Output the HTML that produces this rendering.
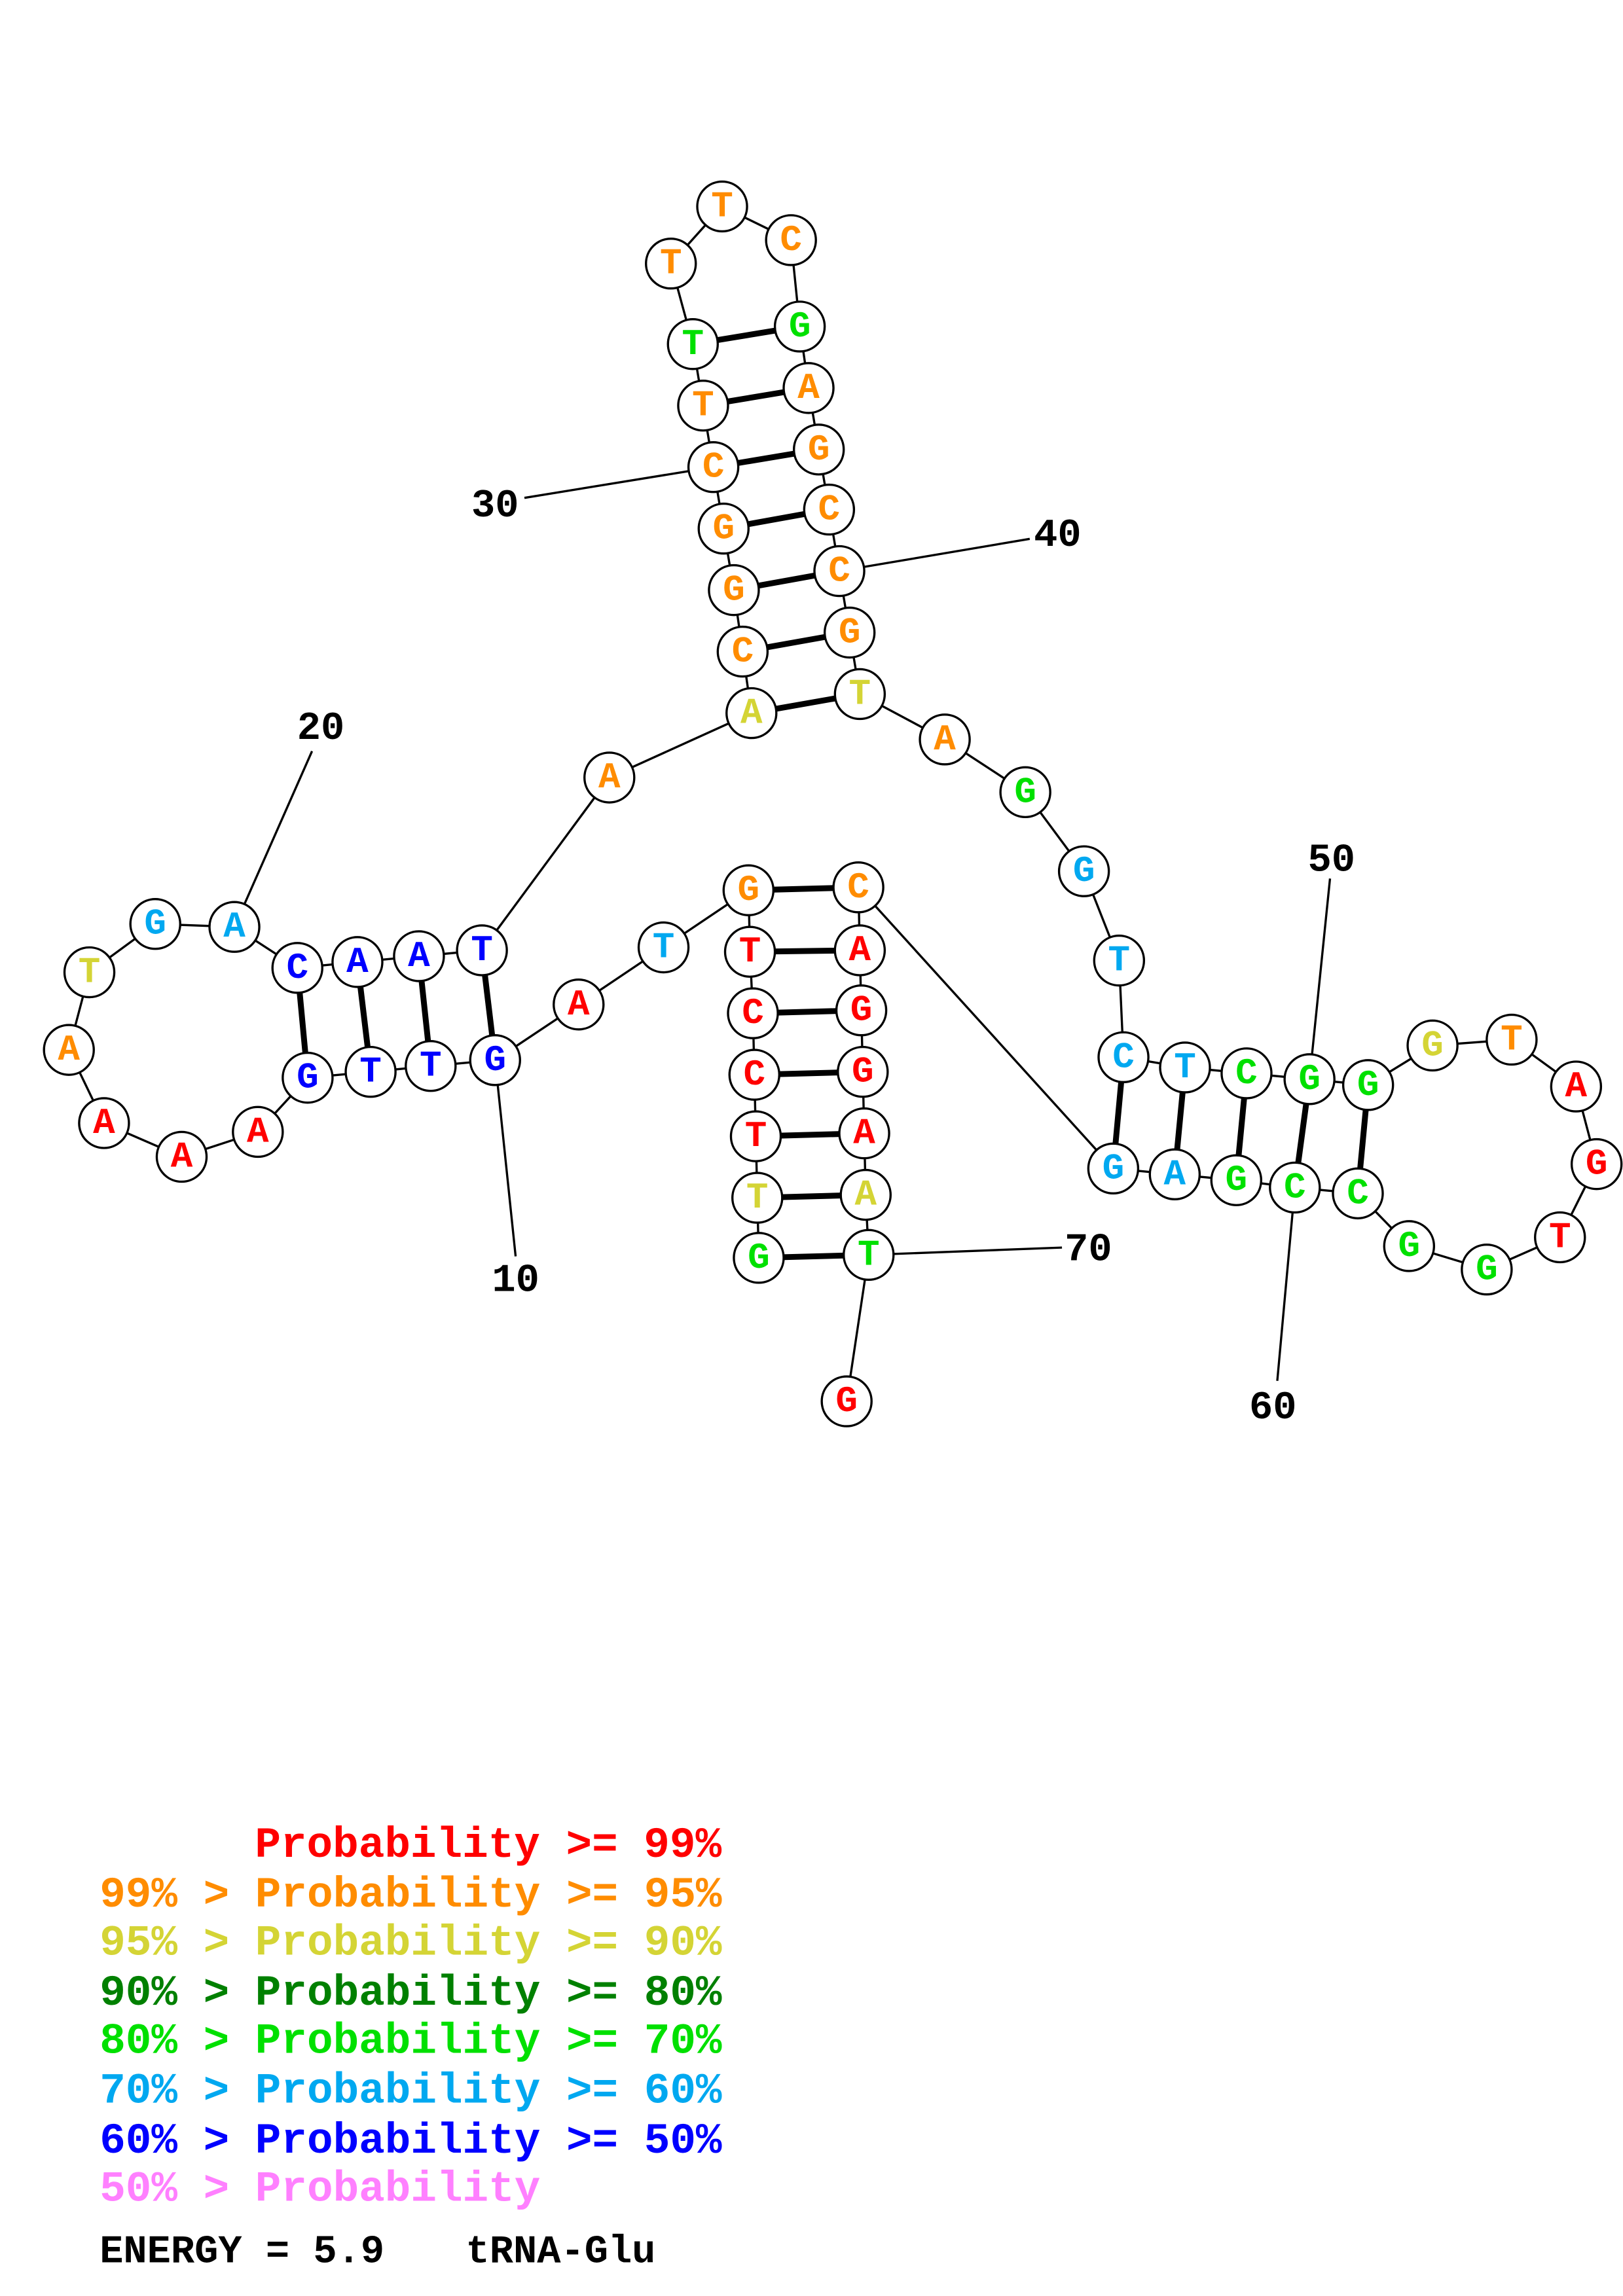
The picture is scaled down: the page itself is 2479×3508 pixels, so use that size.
<!DOCTYPE html>
<html><head><meta charset="utf-8"><style>html,body{margin:0;padding:0;background:#fff}svg{display:block}text{white-space:pre}</style></head><body>
<svg width="2479" height="3508" viewBox="0 0 1108 1568" xmlns="http://www.w3.org/2000/svg">
<rect width="1108" height="1568" fill="#fff"/>
<g stroke="#000" stroke-width="1.5" fill="none">
<polyline points="518,859 517,818 516,776 515,734 514,692 512,650 511,608 453,647 395,686 338,724 294,728 253,732 210,736 176,773 124,790 71,767 47,717 61,664 106,631 160,633 203,661 244,657 286,653 329,649 416,531 513,487 507,445 501,403 494,361 487,319 480,277 473,235 458,180 493,141 540,164 546,223 552,265 559,307 566,348 573,390 580,432 587,474 645,505 700,541 740,595 764,656 767,722 809,729 851,733 894,737 934,741 978,714 1032,710 1076,742 1090,795 1065,845 1015,867 962,851 927,815 884,811 844,806 802,802 760,798 586,606 587,649 588,690 589,732 590,774 591,816 593,857 578,957"/>
<line x1="338" y1="724" x2="352" y2="858"/>
<line x1="160" y1="633" x2="213" y2="513"/>
<line x1="487" y1="319" x2="358" y2="340"/>
<line x1="573" y1="390" x2="703" y2="368"/>
<line x1="894" y1="737" x2="908" y2="600"/>
<line x1="884" y1="811" x2="872" y2="943"/>
<line x1="593" y1="857" x2="725" y2="852"/>
</g>
<g stroke="#000" stroke-width="4">
<line x1="518" y1="859" x2="593" y2="857"/><line x1="517" y1="818" x2="591" y2="816"/><line x1="516" y1="776" x2="590" y2="774"/><line x1="515" y1="734" x2="589" y2="732"/><line x1="514" y1="692" x2="588" y2="690"/><line x1="512" y1="650" x2="587" y2="649"/><line x1="511" y1="608" x2="586" y2="606"/>
<line x1="338" y1="724" x2="329" y2="649"/><line x1="294" y1="728" x2="286" y2="653"/><line x1="253" y1="732" x2="244" y2="657"/><line x1="210" y1="736" x2="203" y2="661"/>
<line x1="513" y1="487" x2="587" y2="474"/><line x1="507" y1="445" x2="580" y2="432"/><line x1="501" y1="403" x2="573" y2="390"/><line x1="494" y1="361" x2="566" y2="348"/><line x1="487" y1="319" x2="559" y2="307"/><line x1="480" y1="277" x2="552" y2="265"/><line x1="473" y1="235" x2="546" y2="223"/>
<line x1="767" y1="722" x2="760" y2="798"/><line x1="809" y1="729" x2="802" y2="802"/><line x1="851" y1="733" x2="844" y2="806"/><line x1="894" y1="737" x2="884" y2="811"/><line x1="934" y1="741" x2="927" y2="815"/>
</g>
<g stroke="#000" stroke-width="1.5" fill="#fff">
<circle cx="518" cy="859" r="17"/><circle cx="517" cy="818" r="17"/><circle cx="516" cy="776" r="17"/><circle cx="515" cy="734" r="17"/><circle cx="514" cy="692" r="17"/><circle cx="512" cy="650" r="17"/><circle cx="511" cy="608" r="17"/><circle cx="453" cy="647" r="17"/><circle cx="395" cy="686" r="17"/><circle cx="338" cy="724" r="17"/><circle cx="294" cy="728" r="17"/><circle cx="253" cy="732" r="17"/><circle cx="210" cy="736" r="17"/><circle cx="176" cy="773" r="17"/><circle cx="124" cy="790" r="17"/><circle cx="71" cy="767" r="17"/><circle cx="47" cy="717" r="17"/><circle cx="61" cy="664" r="17"/><circle cx="106" cy="631" r="17"/><circle cx="160" cy="633" r="17"/><circle cx="203" cy="661" r="17"/><circle cx="244" cy="657" r="17"/><circle cx="286" cy="653" r="17"/><circle cx="329" cy="649" r="17"/><circle cx="416" cy="531" r="17"/><circle cx="513" cy="487" r="17"/><circle cx="507" cy="445" r="17"/><circle cx="501" cy="403" r="17"/><circle cx="494" cy="361" r="17"/><circle cx="487" cy="319" r="17"/><circle cx="480" cy="277" r="17"/><circle cx="473" cy="235" r="17"/><circle cx="458" cy="180" r="17"/><circle cx="493" cy="141" r="17"/><circle cx="540" cy="164" r="17"/><circle cx="546" cy="223" r="17"/><circle cx="552" cy="265" r="17"/><circle cx="559" cy="307" r="17"/><circle cx="566" cy="348" r="17"/><circle cx="573" cy="390" r="17"/><circle cx="580" cy="432" r="17"/><circle cx="587" cy="474" r="17"/><circle cx="645" cy="505" r="17"/><circle cx="700" cy="541" r="17"/><circle cx="740" cy="595" r="17"/><circle cx="764" cy="656" r="17"/><circle cx="767" cy="722" r="17"/><circle cx="809" cy="729" r="17"/><circle cx="851" cy="733" r="17"/><circle cx="894" cy="737" r="17"/><circle cx="934" cy="741" r="17"/><circle cx="978" cy="714" r="17"/><circle cx="1032" cy="710" r="17"/><circle cx="1076" cy="742" r="17"/><circle cx="1090" cy="795" r="17"/><circle cx="1065" cy="845" r="17"/><circle cx="1015" cy="867" r="17"/><circle cx="962" cy="851" r="17"/><circle cx="927" cy="815" r="17"/><circle cx="884" cy="811" r="17"/><circle cx="844" cy="806" r="17"/><circle cx="802" cy="802" r="17"/><circle cx="760" cy="798" r="17"/><circle cx="586" cy="606" r="17"/><circle cx="587" cy="649" r="17"/><circle cx="588" cy="690" r="17"/><circle cx="589" cy="732" r="17"/><circle cx="590" cy="774" r="17"/><circle cx="591" cy="816" r="17"/><circle cx="593" cy="857" r="17"/><circle cx="578" cy="957" r="17"/>
</g>
<g font-family="Liberation Mono, monospace" font-weight="bold" font-size="25" text-anchor="middle" dominant-baseline="central">
<text x="518" y="859" fill="#00e000">G</text><text x="517" y="818" fill="#d4d435">T</text><text x="516" y="776" fill="#ff0000">T</text><text x="515" y="734" fill="#ff0000">C</text><text x="514" y="692" fill="#ff0000">C</text><text x="512" y="650" fill="#ff0000">T</text><text x="511" y="608" fill="#ff8c00">G</text><text x="453" y="647" fill="#00a8f0">T</text><text x="395" y="686" fill="#ff0000">A</text><text x="338" y="724" fill="#0000ff">G</text><text x="294" y="728" fill="#0000ff">T</text><text x="253" y="732" fill="#0000ff">T</text><text x="210" y="736" fill="#0000ff">G</text><text x="176" y="773" fill="#ff0000">A</text><text x="124" y="790" fill="#ff0000">A</text><text x="71" y="767" fill="#ff0000">A</text><text x="47" y="717" fill="#ff8c00">A</text><text x="61" y="664" fill="#d4d435">T</text><text x="106" y="631" fill="#00a8f0">G</text><text x="160" y="633" fill="#00a8f0">A</text><text x="203" y="661" fill="#0000ff">C</text><text x="244" y="657" fill="#0000ff">A</text><text x="286" y="653" fill="#0000ff">A</text><text x="329" y="649" fill="#0000ff">T</text><text x="416" y="531" fill="#ff8c00">A</text><text x="513" y="487" fill="#d4d435">A</text><text x="507" y="445" fill="#ff8c00">C</text><text x="501" y="403" fill="#ff8c00">G</text><text x="494" y="361" fill="#ff8c00">G</text><text x="487" y="319" fill="#ff8c00">C</text><text x="480" y="277" fill="#ff8c00">T</text><text x="473" y="235" fill="#00e000">T</text><text x="458" y="180" fill="#ff8c00">T</text><text x="493" y="141" fill="#ff8c00">T</text><text x="540" y="164" fill="#ff8c00">C</text><text x="546" y="223" fill="#00e000">G</text><text x="552" y="265" fill="#ff8c00">A</text><text x="559" y="307" fill="#ff8c00">G</text><text x="566" y="348" fill="#ff8c00">C</text><text x="573" y="390" fill="#ff8c00">C</text><text x="580" y="432" fill="#ff8c00">G</text><text x="587" y="474" fill="#d4d435">T</text><text x="645" y="505" fill="#ff8c00">A</text><text x="700" y="541" fill="#00e000">G</text><text x="740" y="595" fill="#00a8f0">G</text><text x="764" y="656" fill="#00a8f0">T</text><text x="767" y="722" fill="#00a8f0">C</text><text x="809" y="729" fill="#00a8f0">T</text><text x="851" y="733" fill="#00e000">C</text><text x="894" y="737" fill="#00e000">G</text><text x="934" y="741" fill="#00e000">G</text><text x="978" y="714" fill="#d4d435">G</text><text x="1032" y="710" fill="#ff8c00">T</text><text x="1076" y="742" fill="#ff0000">A</text><text x="1090" y="795" fill="#ff0000">G</text><text x="1065" y="845" fill="#ff0000">T</text><text x="1015" y="867" fill="#00e000">G</text><text x="962" y="851" fill="#00e000">G</text><text x="927" y="815" fill="#00e000">C</text><text x="884" y="811" fill="#00e000">C</text><text x="844" y="806" fill="#00e000">G</text><text x="802" y="802" fill="#00a8f0">A</text><text x="760" y="798" fill="#00a8f0">G</text><text x="586" y="606" fill="#ff8c00">C</text><text x="587" y="649" fill="#ff0000">A</text><text x="588" y="690" fill="#ff0000">G</text><text x="589" y="732" fill="#ff0000">G</text><text x="590" y="774" fill="#ff0000">A</text><text x="591" y="816" fill="#d4d435">A</text><text x="593" y="857" fill="#00e000">T</text><text x="578" y="957" fill="#ff0000">G</text>
</g>
<g font-family="Liberation Mono, monospace" font-weight="bold" font-size="27" text-anchor="middle" dominant-baseline="central" fill="#000">
<text x="352" y="875">10</text><text x="219" y="498">20</text><text x="338" y="346">30</text><text x="722" y="366">40</text><text x="909" y="588">50</text><text x="869" y="962">60</text><text x="743" y="854">70</text>
</g>
<g font-family="Liberation Mono, monospace" font-weight="bold" font-size="29.5">
<text x="174" y="1268" fill="#ff0000">Probability &gt;= 99%</text>
<text x="68" y="1302" fill="#ff8c00">99% &gt; Probability &gt;= 95%</text>
<text x="68" y="1335" fill="#d4d435">95% &gt; Probability &gt;= 90%</text>
<text x="68" y="1369" fill="#008000">90% &gt; Probability &gt;= 80%</text>
<text x="68" y="1402" fill="#00e000">80% &gt; Probability &gt;= 70%</text>
<text x="68" y="1436" fill="#00a8f0">70% &gt; Probability &gt;= 60%</text>
<text x="68" y="1470" fill="#0000ff">60% &gt; Probability &gt;= 50%</text>
<text x="68" y="1503" fill="#ff80ff">50% &gt; Probability</text>
<text x="68" y="1545" fill="#000" font-size="27">ENERGY = 5.9</text>
<text x="318" y="1545" fill="#000" font-size="27">tRNA-Glu</text>
</g>
</svg>
</body></html>
